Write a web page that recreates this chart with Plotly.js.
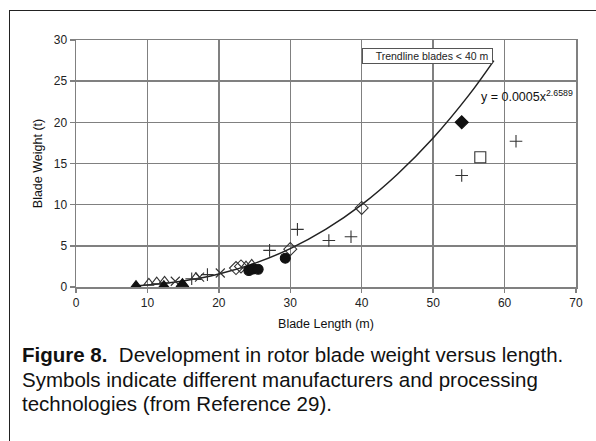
<!DOCTYPE html>
<html>
<head>
<meta charset="utf-8">
<script src="https://cdn.plot.ly/plotly-3.0.1.min.js"></script>
<style>
  html, body { margin: 0; padding: 0; background: #fff; }
  #wrap { position: relative; width: 596px; height: 441px; overflow: hidden; }
  #chart { position: absolute; left: 0; top: 0; width: 596px; height: 441px; }
  #frame { position: absolute; left: 9px; top: 10px; width: 600px; height: 440px;
           border-left: 1.5px solid #222; border-top: 1.5px solid #222; pointer-events: none; }
  .cap { position: absolute; left: 22px; font-family: "Liberation Sans", Arial, sans-serif;
         font-size: 20.5px; line-height: 24px; color: #111; white-space: nowrap; }
</style>
</head>
<body>
<div id="wrap">
  <div id="chart"></div>
  <div id="frame"></div>
  <div class="cap" style="top:343px"><b>Figure 8.</b>&nbsp; Development in rotor blade weight versus length.</div>
  <div class="cap" style="top:367.5px">Symbols indicate different manufacturers and processing</div>
  <div class="cap" style="top:392px">technologies (from Reference 29).</div>
</div>
<script>
// Data
const filledTriX = [8.4, 12.3, 14.9];
const filledTriY = [0.1, 0.1, 0.35];
const openTriX = [10.2, 11.3, 12.4, 16.8, 23.8, 24.6];
const openTriY = [0.5, 0.65, 0.75, 1.2, 2.6, 2.8];
const crossX = [13.9, 17.3, 20.2];
const crossY = [0.7, 1.2, 1.7];
const plusX = [16.2, 18.4, 27.1, 31.0, 35.4, 38.5, 54.0, 61.6];
const plusY = [1.0, 1.5, 4.45, 7.0, 5.65, 6.1, 13.55, 17.7];
const filledCircX = [24.2, 24.8, 25.5, 29.3];
const filledCircY = [2.0, 2.2, 2.15, 3.5];
const openDiaX = [22.4, 23.1, 30.0, 40.0];
const openDiaY = [2.3, 2.5, 4.6, 9.6];
const filledDiaX = [54.0];
const filledDiaY = [20.0];
const openSqX = [56.6];
const openSqY = [15.75];
// Trendline (blades < 40 m)
const trendX = [8, 10, 15, 20, 25, 30, 35, 40, 45, 50, 55, 58.5];
const trendY = [0.14, 0.25, 0.74, 1.58, 2.87, 4.66, 7.02, 10.0, 13.7, 18.1, 23.3, 27.5];
const xTicks = [0, 10, 20, 30, 40, 50, 60, 70];
const yTicks = [0, 5, 10, 15, 20, 25, 30];
const xTitle = "Blade Length (m)";
const yTitle = "Blade Weight (t)";
const legendText = "Trendline blades &lt; 40 m";
const eqText = "y = 0.0005x<sup>2.6589</sup>";

const FONT = '"Liberation Sans", Arial, sans-serif';
const INK = '#111';

function pts(x, y, symbol, size, filled) {
  return {
    x: x, y: y, type: 'scatter', mode: 'markers', showlegend: false, hoverinfo: 'skip',
    marker: { symbol: symbol, size: size, color: filled ? INK : '#333',
              line: { color: filled ? INK : '#333', width: 1.1 } }
  };
}

const traces = [
  { x: trendX, y: trendY, type: 'scatter', mode: 'lines', showlegend: false, hoverinfo: 'skip',
    line: { color: '#222', width: 1.5, shape: 'spline', smoothing: 1 } },
  pts(openTriX, openTriY, 'triangle-up-open', 9, false),
  pts(crossX, crossY, 'x-thin-open', 9, false),
  pts(plusX, plusY, 'cross-thin-open', 9, false),
  pts(openDiaX, openDiaY, 'diamond-open', 10, false),
  pts(filledTriX, filledTriY, 'triangle-up', 11, true),
  pts(filledCircX, filledCircY, 'circle', 10, true),
  pts(filledDiaX, filledDiaY, 'diamond', 10, true),
  pts(openSqX, openSqY, 'square-open', 11, false)
];

const GRID = '#808080';
const layout = {
  width: 596, height: 441,
  margin: { l: 76, r: 20, t: 40, b: 154 },
  paper_bgcolor: 'rgba(0,0,0,0)', plot_bgcolor: '#fff',
  font: { family: FONT, color: '#222', size: 12 },
  xaxis: {
    range: [0, 70], tickvals: xTicks, ticktext: xTicks.map(String),
    showgrid: true, gridcolor: GRID, gridwidth: 1.5,
    showline: true, linecolor: GRID, linewidth: 1.5, mirror: true,
    zeroline: false, ticks: 'outside', ticklen: 4, tickcolor: GRID, tickwidth: 1.5,
    tickfont: { family: FONT, size: 12, color: '#222' },
    title: { text: xTitle, font: { family: FONT, size: 12.5, color: '#111' }, standoff: 10 }
  },
  yaxis: {
    range: [0, 30], tickvals: yTicks, ticktext: yTicks.map(String),
    showgrid: true, gridcolor: GRID, gridwidth: 1.5,
    showline: true, linecolor: GRID, linewidth: 1.5, mirror: true,
    zeroline: false, ticks: 'outside', ticklen: 5, tickcolor: GRID, tickwidth: 1.5,
    tickfont: { family: FONT, size: 12, color: '#222' },
    title: { text: yTitle, font: { family: FONT, size: 12.5, color: '#111' }, standoff: 8 }
  },
  annotations: [
    { xref: 'paper', yref: 'paper', x: 0.702, y: 0.937, xanchor: 'center', yanchor: 'middle',
      text: '\u00a0\u00a0\u00a0\u00a0' + legendText + '\u00a0', showarrow: false,
      font: { family: FONT, size: 10.5, color: '#222' },
      bgcolor: '#fff', bordercolor: '#555', borderwidth: 1, borderpad: 1 },
    { xref: 'paper', yref: 'paper', x: 0.806, y: 0.772, xanchor: 'left', yanchor: 'middle',
      text: eqText, showarrow: false, font: { family: FONT, size: 12.5, color: '#111' } }
  ]
};

Plotly.newPlot('chart', traces, layout, { displayModeBar: false, staticPlot: true });
</script>
</body>
</html>
